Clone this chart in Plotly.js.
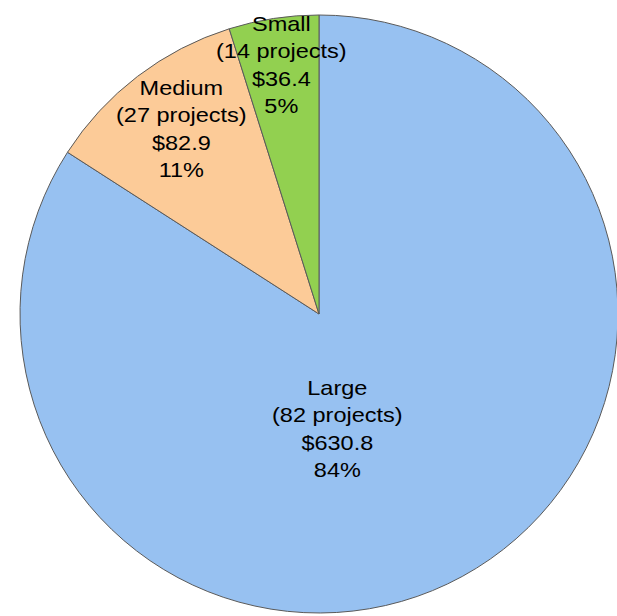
<!DOCTYPE html>
<html>
<head>
<meta charset="utf-8">
<script src="https://cdn.plot.ly/plotly-3.0.1.min.js"></script>
<style>
html,body{margin:0;padding:0;overflow:hidden;background:#fff;}
#chart{width:640px;height:616px;}
</style>
</head>
<body>
<div id="chart"></div>
<script>
const categories = ["Large", "Medium", "Small"];
const projectCounts = [82, 27, 14];
const amounts = [630.8, 82.9, 36.4];
const sliceColors = ["#97C1F1", "#FCCB98", "#92D050"];

const total = amounts.reduce((a, b) => a + b, 0);
const labelText = categories.map((c, i) =>
  c + "<br>(" + projectCounts[i] + " projects)<br>$" + amounts[i].toFixed(1) + "<br>" +
  Math.round(amounts[i] / total * 100) + "%");

const W = 640, H = 616;
const labelPos = [[337, 428], [181, 129], [281, 64]];

const trace = {
  type: "pie",
  labels: categories,
  values: amounts,
  sort: false,
  direction: "clockwise",
  rotation: 0,
  textinfo: "none",
  hoverinfo: "none",
  marker: {colors: sliceColors, line: {color: "#5a5a5a", width: 1}},
  domain: {x: [20 / W, 618 / W], y: [3 / H, 601 / H]},
  showlegend: false
};

const annotations = labelText.map((t, i) => ({
  text: t,
  xref: "paper", yref: "paper",
  x: labelPos[i][0] / W,
  y: 1 - labelPos[i][1] / H,
  xanchor: "center", yanchor: "middle",
  showarrow: false,
  align: "center",
  font: {family: "Liberation Sans, Arial, sans-serif", size: 21, color: "#000"}
}));

const layout = {
  width: W, height: H,
  margin: {l: 0, r: 0, t: 0, b: 0},
  paper_bgcolor: "#ffffff",
  annotations: annotations
};

Plotly.newPlot("chart", [trace], layout, {displayModeBar: false, staticPlot: true}).then(gd => {
  gd.querySelectorAll("text.annotation-text").forEach(t => {
    const bb = t.getBBox();
    const cx = bb.x + bb.width / 2;
    t.setAttribute("transform", "translate(" + cx + ",0) scale(1.12,1) translate(" + (-cx) + ",0)");
  });
});
</script>
</body>
</html>
